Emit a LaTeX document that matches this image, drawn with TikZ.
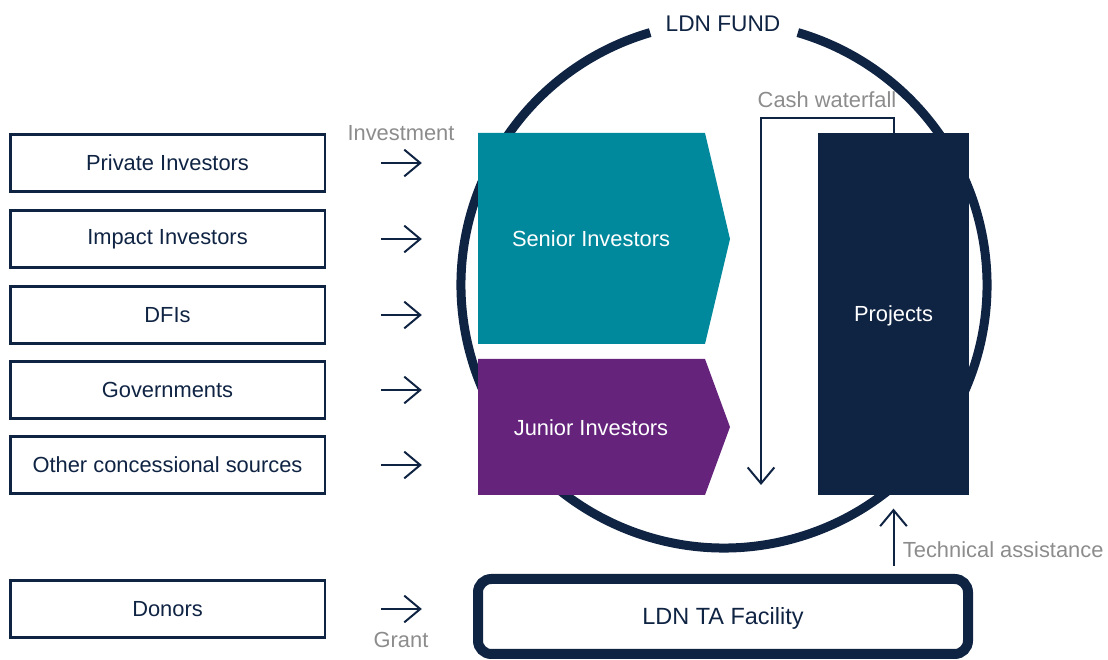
\documentclass[tikz,border=0pt]{standalone}
\usepackage{fontspec}
\setmainfont{Liberation Sans}
\usetikzlibrary{arrows.meta}
\usetikzlibrary{positioning}
\definecolor{ldnnavy}{HTML}{0F2343}
\definecolor{ldnteal}{HTML}{00899C}
\definecolor{ldnpurple}{HTML}{65237C}
\definecolor{ldngrey}{HTML}{8C8C8C}
\tikzset{src/.style = {draw=ldnnavy, line width=2pt, minimum width=236pt,
                       minimum height=42.75pt, text=ldnnavy,
                       font=\fontsize{16.4}{19}\selectfont},
         flow/.style = {ldnnavy, line width=1.5pt,
                        -{Straight Barb[length=12pt, width=20pt, line width=1.5pt]}},
         lbl/.style = {text=ldngrey, font=\fontsize{16.4}{19}\selectfont},
         tranche/.style = {text=white, font=\fontsize{16.4}{19}\selectfont}}

\begin{document}
\begin{tikzpicture}[x=0.75pt, y=0.75pt]
    \useasboundingbox (0, 0) rectangle (1108, 660);

    \draw [ldnnavy, line width=6.75pt] (724, 375) ++(106.3:263)
        arc [start angle=106.3, end angle=433.7, radius=263];
    \node [text=ldnnavy, font=\fontsize{17}{20}\selectfont] (fund) at (723, 636) {LDN FUND};

    \fill [ldnteal] (478, 527) -- (705, 527) -- (730, 421) -- (705, 316) -- (478, 316) -- cycle;
    \node [tranche] (senior) at (591, 421) {Senior Investors};
    \fill [ldnpurple] (478, 301) -- (705, 301) -- (730, 233) -- (705, 165) -- (478, 165) -- cycle;
    \node [tranche] (junior) at (591, 232) {Junior Investors};
    \node [fill=ldnnavy, minimum width=113.25pt, minimum height=271.5pt, tranche,
           text depth=0pt] (proj) at (893.5, 346) {Projects};

    \coordinate (wfall) at (761, 175);
    \draw [flow] (proj.north) -- ++(0, 15) -| (wfall);
    \node [lbl] (cash) at (827, 560) {Cash waterfall};

    \node [src] (priv) at (167.5, 497) {Private Investors};
    \node [src] (impact) at (167.5, 421) {Impact Investors};
    \node [src] (dfi) at (167.5, 345) {DFIs};
    \node [src] (gov) at (167.5, 270) {Governments};
    \node [src] (other) at (167.5, 195) {Other concessional sources};
    \node [src] (donor) at (167.5, 51) {Donors};

    \draw [flow] ([xshift=41pt]priv.east) -- ++(41, 0);
    \draw [flow] ([xshift=41pt]impact.east) -- ++(41, 0);
    \draw [flow] ([xshift=41pt]dfi.east) -- ++(41, 0);
    \draw [flow] ([xshift=41pt]gov.east) -- ++(41, 0);
    \draw [flow] ([xshift=41pt]other.east) -- ++(41, 0);
    \draw [flow] ([xshift=41pt]donor.east) -- ++(41, 0);
    \node [lbl] (invest) at (401, 527) {Investment};
    \node [lbl] (grant) at (401, 20) {Grant};

    \node [draw=ldnnavy, line width=7.5pt, rounded corners=10pt, minimum width=367.5pt,
           minimum height=56.25pt, text=ldnnavy, text depth=0pt,
           font=\fontsize{17.6}{20}\selectfont] (ta) at (723, 43.5) {LDN TA Facility};
    \draw [flow] ([yshift=6pt]ta.north -| proj.south) -- ([yshift=-10pt]proj.south)
        node [lbl, right, pos=0.29, xshift=3pt] {Technical assistance};
  \end{tikzpicture}
\end{document}
